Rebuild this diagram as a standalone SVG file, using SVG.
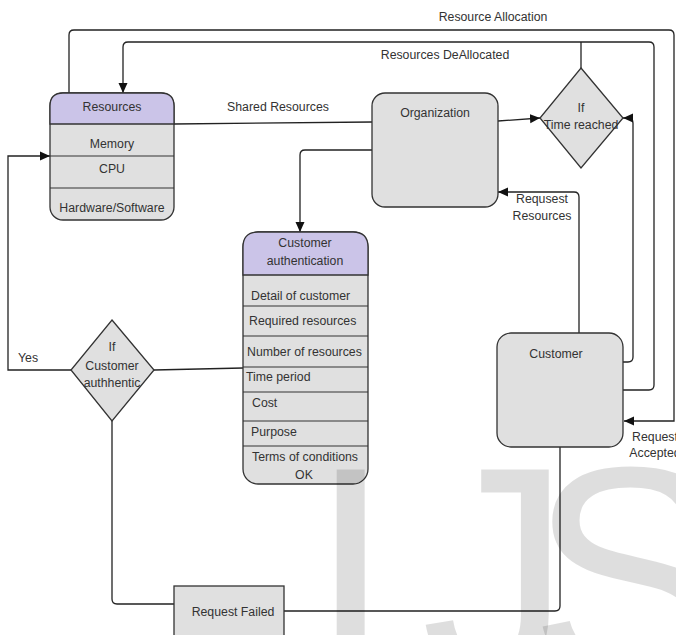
<svg xmlns="http://www.w3.org/2000/svg" width="676" height="635" viewBox="0 0 676 635">
<style>
text{font-family:"Liberation Sans",Arial,sans-serif;font-size:12.3px;fill:#333}
.c{text-anchor:middle}
.box{fill:#e0e0e0;stroke:#333;stroke-width:1.3}
.hdr{fill:#cbc4e8;stroke:#333;stroke-width:1.3}
.div{stroke:#333;stroke-width:1.2;fill:none}
.ln{fill:none;stroke:#222;stroke-width:1.3}
.wm{font-size:300px;fill:#000;fill-opacity:0.13;font-family:"Liberation Sans",Arial,sans-serif}
</style>
<defs>
<marker id="ar" markerUnits="userSpaceOnUse" markerWidth="10" markerHeight="10" refX="10" refY="5" orient="auto">
<path d="M0,0.5 L10,5 L0,9.5 z" fill="#111"/>
</marker>
</defs>
<rect width="676" height="635" fill="#fff"/>

<g id="connectors">
<path class="ln" d="M69,93 V35 Q69,30 74,30 H669 Q674,30 674,35 V421 H624" marker-end="url(#ar)"/>
<path class="ln" d="M623,390 H649 Q654,390 654,385 V47 Q654,42 649,42 H128 Q123,42 123,47 V93" marker-end="url(#ar)"/>
<path class="ln" d="M581,68 V42"/>
<path class="ln" d="M623,362 H628 Q633,362 633,357 V123 Q633,118 628,118 H623" marker-end="url(#ar)"/>
<path class="ln" d="M498,121 L540,118" marker-end="url(#ar)"/>
<path class="ln" d="M174,124 L372,122"/>
<path class="ln" d="M372,150 H305 Q300,150 300,155 V232" marker-end="url(#ar)"/>
<path class="ln" d="M579,333 V197 Q579,192 574,192 H498" marker-end="url(#ar)"/>
<path class="ln" d="M71,370 H8 V156 H50" marker-end="url(#ar)"/>
<path class="ln" d="M154,370 L243,368"/>
<path class="ln" d="M112,421 V599 Q112,604 117,604 H174"/>
<path class="ln" d="M560,447 V606 Q560,611 555,611 H284"/>
<text class="c" x="493" y="21">Resource Allocation</text>
<text class="c" x="445" y="59">Resources DeAllocated</text>
<text class="c" x="278" y="111">Shared Resources</text>
<text class="c" x="542" y="203">Requsest</text>
<text class="c" x="542" y="220">Resources</text>
<text class="c" x="655" y="441">Request</text>
<text class="c" x="655" y="457">Accepted</text>
<text class="c" x="28" y="362">Yes</text>
</g>

<g id="resources">
<rect class="box" x="50" y="93" width="124" height="127" rx="13"/>
<path class="hdr" d="M50,124 V106 Q50,93 63,93 H161 Q174,93 174,106 V124 Z"/>
<path class="div" d="M50,156 H174 M50,188 H174"/>
<text class="c" x="112" y="111">Resources</text>
<text class="c" x="112" y="148">Memory</text>
<text class="c" x="112" y="173">CPU</text>
<text class="c" x="112" y="212">Hardware/Software</text>
</g>

<g id="organization">
<rect class="box" x="372" y="93" width="126" height="114" rx="13"/>
<text class="c" x="435" y="117">Organization</text>
</g>

<g id="time-reached">
<path class="box" d="M581,68 L623,118 L581,168 L540,118 Z"/>
<text class="c" x="581" y="112">If</text>
<text class="c" x="581" y="129">Time reached</text>
</g>

<g id="customer-authentication">
<rect class="box" x="243" y="232" width="125" height="252" rx="15"/>
<path class="hdr" d="M243,275 V247 Q243,232 258,232 H353 Q368,232 368,247 V275 Z"/>
<path class="div" d="M243,306 H368 M243,336 H368 M243,367 H368 M243,392 H368 M243,421 H368 M243,446 H368"/>
<text class="c" x="305" y="247">Customer</text>
<text class="c" x="305" y="265">authentication</text>
<text x="251" y="300">Detail of customer</text>
<text x="249" y="325">Required resources</text>
<text x="247" y="356">Number of resources</text>
<text x="246" y="381">Time period</text>
<text x="252" y="407">Cost</text>
<text x="251" y="436">Purpose</text>
<text class="c" x="305" y="461">Terms of conditions</text>
<text class="c" x="304" y="479">OK</text>
</g>

<g id="customer-authentic">
<path class="box" d="M112,320 L154,370 L112,421 L71,370 Z"/>
<text class="c" x="112" y="351">If</text>
<text class="c" x="112" y="370">Customer</text>
<text class="c" x="112" y="387">authhentic</text>
</g>

<g id="customer">
<rect class="box" x="497" y="333" width="126" height="114" rx="14"/>
<text class="c" x="556" y="358">Customer</text>
</g>

<g id="request-failed">
<rect class="box" x="174" y="586" width="110" height="60"/>
<text class="c" x="233" y="616">Request Failed</text>
</g>

<g id="watermark">
<text class="wm" y="676"><tspan x="309">I</tspan><tspan x="421">J</tspan><tspan x="529">S</tspan></text>
</g>
</svg>
